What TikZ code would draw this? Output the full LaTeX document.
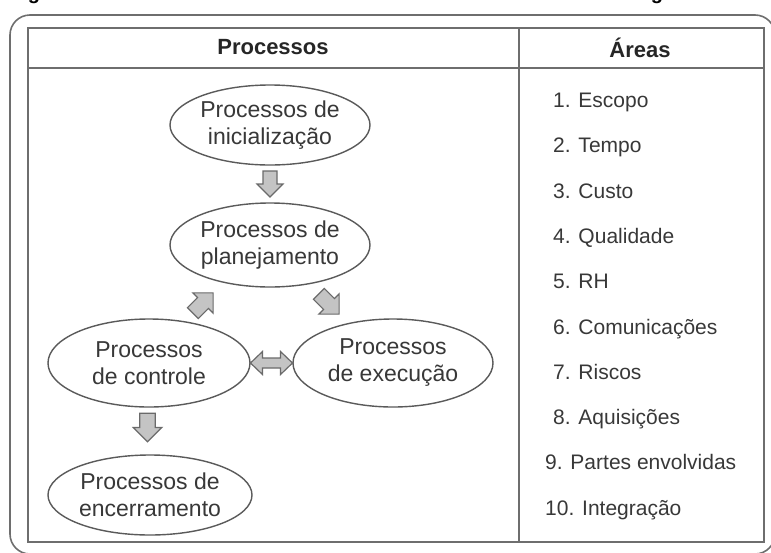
\documentclass[tikz,border=0pt]{standalone}
\usepackage{fontspec}
\setmainfont{Liberation Sans}
\usetikzlibrary{shapes.geometric,calc}
\definecolor{framecol}{HTML}{6E6E6E}
\definecolor{ellcol}{HTML}{5A5A5A}
\definecolor{txtcol}{HTML}{383838}
\definecolor{arrowfill}{HTML}{C4C4C4}
\definecolor{arrowline}{HTML}{6A6A6A}
\tikzset{
  frame/.style={draw=framecol, line width=1.6pt},
  proc/.style={ellipse, draw=ellcol, line width=1.4pt, minimum width=200pt, minimum height=82pt,
    inner sep=0pt, align=center, text=txtcol, font=\fontsize{23}{27}\selectfont},
  head/.style={font=\fontsize{22}{26}\selectfont\bfseries, text=black!85},
  area/.style={anchor=base west, inner sep=0pt, text=txtcol, font=\fontsize{21}{25}\selectfont},
  blk/.style={fill=arrowfill, draw=arrowline, line width=1.2pt, line join=miter},
  pics/sarrow/.style={code={
    \draw[blk] (-13,-7) -- (0,-7) -- (0,-13) -- (13,0) -- (0,13) -- (0,7) -- (-13,7) -- cycle;}},
  pics/darrow/.style={code={
    \draw[blk] (-21,0) -- (-9,-11.5) -- (-9,-5) -- (9,-5) -- (9,-11.5) -- (21,0)
      -- (9,11.5) -- (9,5) -- (-9,5) -- (-9,11.5) -- cycle;}},
}
\begin{document}
\begin{tikzpicture}[x=1pt,y=-1pt]
\useasboundingbox (0,0) rectangle (771,552);
\fill[white] (0,0) rectangle (771,552);
% caption fragments cut at the top
\begin{scope}
  \clip (0,0) rectangle (771,552);
  \node[anchor=base, inner sep=0pt, font=\fontsize{20}{24}\selectfont\bfseries] (capa) at (34,-1) {g};
  \node[anchor=base, inner sep=0pt, font=\fontsize{20}{24}\selectfont\bfseries] (capb) at (657,-1) {g};
  % outer rounded frame
  \draw[frame, rounded corners=20pt] (10,15) rectangle (775,554);
\end{scope}
% inner table
\draw[frame] (28,28) rectangle (764,542);
\draw[frame] (28,68) -- (764,68);
\draw[frame] (519,28) -- (519,542);
% headers
\node[head] (hp) at (273,47) {Processos};
\node[head] (ha) at (640,48) {Áreas};
% process ellipses
\node[proc, minimum height=80pt] (init) at (270,125) {Processos de\\inicialização};
\node[proc, minimum height=84pt] (plan) at (270,245) {Processos de\\planejamento};
\node[proc, minimum height=88pt, minimum width=202pt] (ctrl) at (149,363) {Processos\\de controle};
\node[proc, minimum height=88pt] (exec) at (393,363) {Processos\\de execução};
\node[proc, minimum height=80pt, minimum width=204pt] (ence) at (150,495) {Processos de\\encerramento};
% block arrows
\pic[rotate=-90] (a1) at ($(init.south)!0.5!(plan.north)$) {sarrow};
\pic[rotate=45, scale=1.1] (a2) at (203,303) {sarrow};
\pic[rotate=-45, scale=1.1] (a3) at (329,304) {sarrow};
\pic (a4) at ($(ctrl.east)!0.5!(exec.west)$) {darrow};
\pic[rotate=-90, scale=1.1] (a5) at (147.5,427.5) {sarrow};
% areas
\node[area] (ar1) at (553,107.5) {1. Escopo};
\node[area] (ar2) at (553,152.8) {2. Tempo};
\node[area] (ar3) at (553,198.1) {3. Custo};
\node[area] (ar4) at (553,243.4) {4. Qualidade};
\node[area] (ar5) at (553,288.7) {5. RH};
\node[area] (ar6) at (553,334.0) {6. Comunicações};
\node[area] (ar7) at (553,379.3) {7. Riscos};
\node[area] (ar8) at (553,424.6) {8. Aquisições};
\node[area] (ar9) at (545,469.9) {9. Partes envolvidas};
\node[area] (ar10) at (545,515.2) {10. Integração};
\end{tikzpicture}
\end{document}
